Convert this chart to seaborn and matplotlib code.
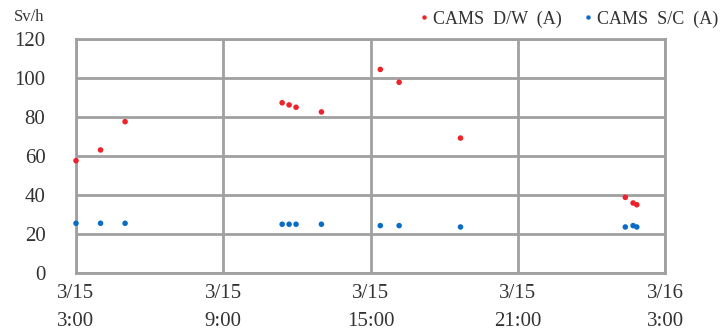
import matplotlib
matplotlib.use("Agg")
import matplotlib.pyplot as plt
import seaborn as sns
import pandas as pd

# Data
times_dw = ["2011-03-15 03:00", "2011-03-15 04:00", "2011-03-15 05:00",
            "2011-03-15 11:24", "2011-03-15 11:41", "2011-03-15 11:58",
            "2011-03-15 13:00", "2011-03-15 15:24", "2011-03-15 16:10",
            "2011-03-15 18:40", "2011-03-16 01:23", "2011-03-16 01:42",
            "2011-03-16 01:51"]
values_dw = [57.6, 63.1, 77.6, 87.3, 86.2, 85.0, 82.6, 104.4, 97.8, 69.2, 38.8, 35.9, 35.0]
times_sc = times_dw
values_sc = [25.5, 25.5, 25.5, 25.0, 25.0, 25.0, 25.0, 24.3, 24.3, 23.6, 23.6, 24.3, 23.6]
series_names = ["CAMS  D/W  (A)", "CAMS  S/C  (A)"]
colors = ["#ee2228", "#0a6cc4"]
ytick_vals = [0, 20, 40, 60, 80, 100, 120]
xtick_times = ["2011-03-15 03:00", "2011-03-15 09:00", "2011-03-15 15:00",
               "2011-03-15 21:00", "2011-03-16 03:00"]
xtick_labels = ["3/15\n3:00", "3/15\n9:00", "3/15\n15:00", "3/15\n21:00", "3/16\n3:00"]
unit_label = "Sv/h"

df = pd.concat([
    pd.DataFrame({"time": pd.to_datetime(times_dw), "value": values_dw, "series": series_names[0]}),
    pd.DataFrame({"time": pd.to_datetime(times_sc), "value": values_sc, "series": series_names[1]}),
])

sns.set_theme(style="white")
fam = ["Liberation Serif", "Noto Sans CJK JP", "DejaVu Sans"]
plt.rcParams["font.family"] = fam

fig = plt.figure(figsize=(7.2, 3.36), dpi=100)
ax = fig.add_axes([76/720, 63/336, (665-76)/720, (273-39)/336])

sns.scatterplot(data=df, x="time", y="value", hue="series", palette=colors,
                s=16, linewidth=0, ax=ax, legend=True, clip_on=False, zorder=5)

xt = pd.to_datetime(xtick_times)
ax.set_xlim(xt[0], xt[-1])
ax.set_ylim(0, 120)
ax.set_yticks(ytick_vals)
ax.set_yticklabels([str(v) for v in ytick_vals], fontsize=15, color="#333333")
ax.set_xticks(xt)
ax.set_xticklabels(xtick_labels, fontsize=15, color="#333333", linespacing=1.6)
ax.tick_params(axis="y", length=0, pad=22)
ax.tick_params(axis="x", length=0, pad=8)
ax.set_xlabel("")
ax.set_ylabel("")
ax.grid(True, color="#a0a0a0", linewidth=2)
ax.set_axisbelow(True)
for sp in ax.spines.values():
    sp.set_color("#a0a0a0")
    sp.set_linewidth(2)

fig.text(14/720, 1 - 17/336, unit_label, fontsize=12, color="#333333", va="center", ha="left")

h, l = ax.get_legend_handles_labels()
leg = ax.legend(h, l, loc="center right", bbox_to_anchor=(1.0 + 5/720, 1 - 19/336),
                bbox_transform=fig.transFigure,
                ncol=2, frameon=False, fontsize=13, handletextpad=0.0, columnspacing=0.95,
                markerscale=0.8, handlelength=1.0, borderaxespad=0)
for t in leg.get_texts():
    t.set_color("#333333")

fig.savefig("out.png", dpi=100)
